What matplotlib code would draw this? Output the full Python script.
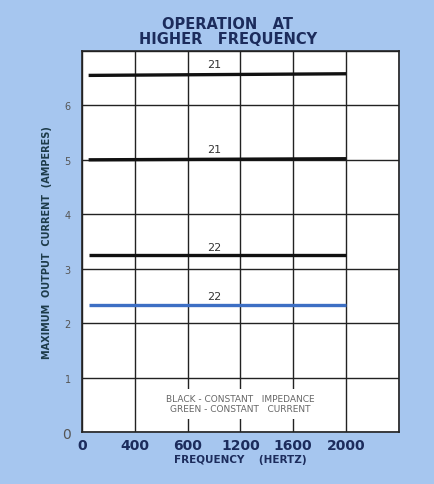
import matplotlib
matplotlib.use("Agg")
import matplotlib.pyplot as plt

# ── DATA ──────────────────────────────────────────────────────────────────────
freq_start = [50, 50, 50, 50]
freq_end   = [2000, 2000, 2000, 2000]
current_start = [6.55, 5.0, 3.26, 2.33]
current_end   = [6.58, 5.02, 3.26, 2.33]
line_colors   = ["#111111", "#111111", "#111111", "#3d6fc4"]
curve_labels  = ["21", "21", "22", "22"]
label_pos_x   = [1000, 1000, 1000, 1000]
label_pos_y   = [6.76, 5.2, 3.39, 2.5]

x_ticks      = [0, 400, 800, 1200, 1600, 2000]
x_ticklabels = ["0", "400", "600", "1200", "1600", "2000"]
y_ticks      = [0, 1, 2, 3, 4, 5, 6]

# ── STYLE ─────────────────────────────────────────────────────────────────────
BG     = "#a6c6ef"
NAVY   = "#1c2c5c"
GRAY   = "#555555"

plt.rcParams["font.family"] = ["DejaVu Sans"]

fig = plt.figure(figsize=(4.34, 4.85), dpi=100, facecolor=BG)
ax = fig.add_axes([0.189, 0.107, 0.730, 0.786])
ax.set_facecolor("white")

ax.set_xlim(0, 2400)
ax.set_ylim(0, 7)

# raster
for gx in range(0, 2401, 400):
    ax.axvline(gx, color="#222222", linewidth=1.0, zorder=1)
for gy in range(0, 8):
    ax.axhline(gy, color="#222222", linewidth=1.0, zorder=1)

for x0, x1, y0, y1, c, lbl, lx, ly in zip(freq_start, freq_end, current_start,
                                          current_end, line_colors, curve_labels,
                                          label_pos_x, label_pos_y):
    ax.plot([x0, x1], [y0, y1], color=c, linewidth=2.4, zorder=3,
            solid_capstyle="butt")
    ax.text(lx, ly, lbl, color="#333333", fontsize=8, ha="center",
            va="center", zorder=4)

ax.text(1200, 0.52, "BLACK - CONSTANT   IMPEDANCE\nGREEN - CONSTANT   CURRENT",
        ha="center", va="center", fontsize=6.5, color="#666666",
        linespacing=1.1, zorder=5,
        bbox=dict(boxstyle="square,pad=0.6", facecolor="white",
                  edgecolor="none"))

for s in ax.spines.values():
    s.set_color("#222222")
    s.set_linewidth(1.2)

ax.set_xticks(x_ticks)
ax.set_xticklabels(x_ticklabels, fontsize=10, fontweight="bold", color=NAVY)
ax.set_yticks(y_ticks)
ax.set_yticklabels([str(v) for v in y_ticks], fontsize=7, color=GRAY)
ax.get_yticklabels()[0].set_fontsize(10)
ax.tick_params(length=0, pad=4)
ax.tick_params(axis="y", pad=8)

ax.set_xlabel("FREQUENCY    (HERTZ)", fontsize=7.5, fontweight="bold",
              color=NAVY, labelpad=2)
ax.set_ylabel("MAXIMUM  OUTPUT  CURRENT  (AMPERES)", fontsize=7,
              fontweight="bold", color="#1d3b4a", labelpad=7)

fig.text(0.525, 0.934, "OPERATION   AT\nHIGHER   FREQUENCY", ha="center",
         va="center", fontsize=10.5, fontweight="bold", color=NAVY,
         linespacing=0.95)

fig.savefig("out.png", dpi=100, facecolor=BG)
